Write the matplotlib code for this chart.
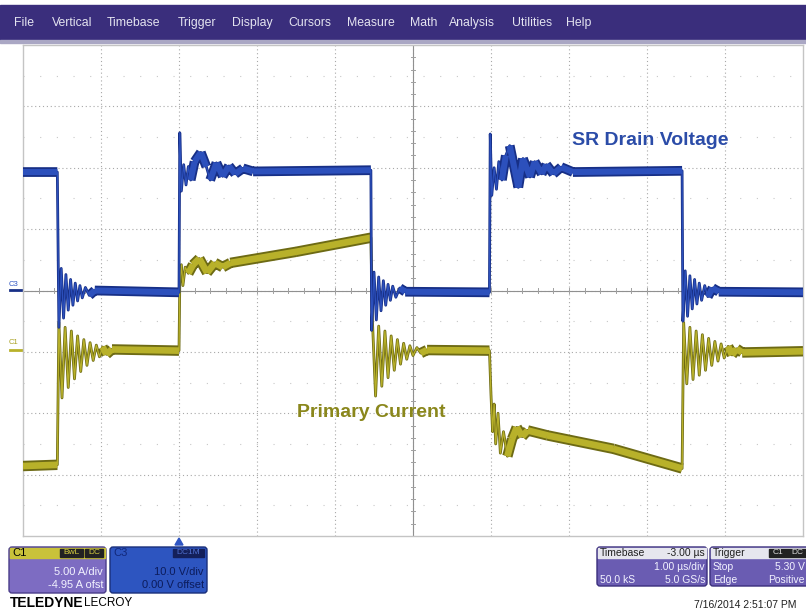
import numpy as np
import matplotlib.pyplot as plt
from matplotlib.patches import Rectangle, FancyBboxPatch, Polygon

plt.rcParams['font.family'] = ['Liberation Sans', 'DejaVu Sans']

# Scope screen: 10 time divisions (1 us/div), 8 vertical divisions
# C3 = SR drain voltage (blue), values in divisions
c3_t = [0.00, 0.44,
        0.46, 0.49, 0.52, 0.55, 0.58, 0.61, 0.64, 0.67, 0.70, 0.73, 0.76, 0.80, 0.85, 0.92, 2.00,
        2.01, 2.03, 2.06, 2.09, 2.12, 2.15, 2.20, 2.28, 2.35, 2.40, 2.48, 2.56, 2.64, 2.72, 2.82, 2.95, 4.46,
        4.47, 4.50, 4.53, 4.56, 4.59, 4.62, 4.65, 4.68, 4.71, 4.74, 4.78, 4.83, 4.90, 5.98,
        5.99, 6.01, 6.04, 6.07, 6.10, 6.14, 6.19, 6.24, 6.35, 6.41, 6.50, 6.56, 6.65, 6.71, 6.80, 6.90, 7.05, 8.45,
        8.46, 8.49, 8.52, 8.55, 8.58, 8.61, 8.64, 8.67, 8.70, 8.74, 8.78, 8.84, 8.92, 10.0]
c3_v = [1.93, 1.93,
        -0.60, 0.36, -0.45, 0.26, -0.32, 0.18, -0.24, 0.12, -0.17, 0.08, -0.12, 0.05, -0.08, 0.00, -0.03,
        2.57, 1.62, 2.05, 1.72, 2.02, 1.80, 2.10, 2.25, 2.02, 1.80, 2.08, 1.86, 2.03, 1.90, 1.99, 1.94, 1.96,
        -0.65, 0.30, -0.48, 0.22, -0.33, 0.16, -0.24, 0.10, -0.16, 0.07, -0.11, 0.04, -0.02, -0.03,
        2.55, 1.55, 2.00, 1.65, 2.10, 1.80, 2.20, 2.36, 1.68, 2.15, 1.85, 2.10, 1.90, 2.05, 1.90, 2.01, 1.93, 1.95,
        -0.50, 0.32, -0.42, 0.24, -0.30, 0.18, -0.22, 0.12, -0.16, 0.08, -0.10, 0.04, -0.02, -0.03]

# C1 = primary current (yellow), values in divisions
c1_t = [0.00, 0.44,
        0.46, 0.50, 0.54, 0.58, 0.62, 0.66, 0.70, 0.74, 0.78, 0.82, 0.86, 0.90, 0.94, 0.98, 1.02, 1.07, 1.14, 2.00,
        2.01, 2.03, 2.05, 2.08, 2.12, 2.18, 2.26, 2.36, 2.46, 2.56, 2.66, 3.50, 4.46,
        4.48, 4.52, 4.56, 4.60, 4.64, 4.68, 4.72, 4.76, 4.80, 4.84, 4.88, 4.92, 4.96, 5.00, 5.05, 5.10, 5.18, 5.98,
        6.00, 6.02, 6.04, 6.06, 6.09, 6.12, 6.16, 6.21, 6.27, 6.33, 6.40, 6.47, 6.72, 7.57, 8.45,
        8.47, 8.51, 8.55, 8.59, 8.63, 8.67, 8.71, 8.75, 8.79, 8.83, 8.87, 8.91, 8.95, 8.99, 9.04, 9.09, 9.15, 9.22, 10.0]
c1_v = [-2.86, -2.84,
        -0.52, -1.75, -0.60, -1.58, -0.66, -1.44, -0.74, -1.32, -0.80, -1.22, -0.85, -1.14, -0.89, -1.08, -0.92, -1.04, -0.96, -0.98,
        0.12, 0.42, 0.08, 0.38, 0.28, 0.42, 0.52, 0.29, 0.45, 0.38, 0.45, 0.63, 0.86,
        -0.50, -1.72, -0.58, -1.56, -0.66, -1.42, -0.74, -1.30, -0.80, -1.20, -0.86, -1.12, -0.90, -1.06, -0.93, -1.02, -0.97, -0.98,
        -1.70, -2.30, -1.85, -2.50, -2.00, -2.65, -2.30, -2.70, -2.42, -2.23, -2.38, -2.28, -2.36, -2.58, -2.90,
        -0.52, -1.52, -0.60, -1.45, -0.66, -1.38, -0.72, -1.30, -0.78, -1.22, -0.83, -1.15, -0.87, -1.10, -0.91, -1.05, -0.95, -1.01, -0.99]

menu_items = ['File', 'Vertical', 'Timebase', 'Trigger', 'Display', 'Cursors',
              'Measure', 'Math', 'Analysis', 'Utilities', 'Help']
menu_x = [14, 52, 107, 178, 232, 288, 347, 410, 449, 512, 566]


def plateau_pieces(t, v, min_dt=0.05):
    # slow parts of the trace get the thick "noise band" look
    xs, ys = [], []
    for i in range(len(t) - 1):
        if t[i + 1] - t[i] >= min_dt:
            xs += [t[i], t[i + 1], np.nan]
            ys += [v[i], v[i + 1], np.nan]
    return xs, ys


fig = plt.figure(figsize=(8.06, 6.11), dpi=100)
fig.patch.set_facecolor('white')

# overlay in pixel coordinates for the screen furniture
ov = fig.add_axes([0, 0, 1, 1], zorder=0)
ov.set_xlim(0, 806)
ov.set_ylim(611, 0)
ov.axis('off')

# menu bar
ov.add_patch(Rectangle((0, 5), 806, 35, color='#3a2e7c'))
ov.add_patch(Rectangle((0, 40), 806, 3, color='#aaa7c4'))
for name, x in zip(menu_items, menu_x):
    ov.text(x, 23, name, color='#e4e4f0', fontsize=8.8, va='center')

# plot grid
ax = fig.add_axes([23 / 806, 75 / 611, 780 / 806, 491 / 611], zorder=1)
ax.set_xlim(0, 10)
ax.set_ylim(-4, 4)
ax.set_xticks([])
ax.set_yticks([])
for s in ax.spines.values():
    s.set_color('#c4c4c4')
    s.set_linewidth(1.0)
for x in range(1, 10):
    ax.axvline(x, color='#a8a8a8', lw=0.8, ls=(0, (1, 2.5)), zorder=1)
for y in range(-3, 4):
    ax.axhline(y, color='#a8a8a8', lw=0.8, ls=(0, (1, 2.5)), zorder=1)
for y in [-3.5, -2.5, -1.5, -0.5, 0.5, 1.5, 2.5, 3.5]:
    ax.axhline(y, color='#c8c8c8', lw=0.8, ls=(0, (1, 14)), zorder=1)
# center axes with minor ticks
ax.axhline(0, color='#909090', lw=0.8, zorder=1)
ax.axvline(5, color='#909090', lw=0.8, zorder=1)
for xt in np.arange(0.2, 10, 0.2):
    ax.plot([xt, xt], [-0.04, 0.04], color='#a0a0a0', lw=0.7, zorder=1)
for yt in np.arange(-3.8, 4, 0.2):
    ax.plot([4.97, 5.03], [yt, yt], color='#a0a0a0', lw=0.7, zorder=1)

# C1 trace (yellow)
px, py = plateau_pieces(c1_t, c1_v)
ax.plot(c1_t, c1_v, color='#6d6a14', lw=2.0, zorder=3)
ax.plot(px, py, color='#6d6a14', lw=7.5, zorder=3, solid_capstyle='butt')
ax.plot(px, py, color='#b8b12a', lw=4.8, zorder=4, solid_capstyle='butt')
ax.plot(c1_t, c1_v, color='#b8b12a', lw=0.9, zorder=4)

# C3 trace (blue)
px, py = plateau_pieces(c3_t, c3_v)
ax.plot(c3_t, c3_v, color='#172f86', lw=2.0, zorder=5)
ax.plot(px, py, color='#172f86', lw=7.0, zorder=5, solid_capstyle='butt')
ax.plot(px, py, color='#2c50bc', lw=4.4, zorder=6, solid_capstyle='butt')
ax.plot(c3_t, c3_v, color='#2c50bc', lw=0.9, zorder=6)

ax.text(7.04, 2.44, 'SR Drain Voltage', color='#2b4ca8', fontsize=14,
        fontweight='bold', va='center', ha='left', zorder=7)
ax.text(3.51, -1.99, 'Primary Current', color='#8a871c', fontsize=14,
        fontweight='bold', va='center', ha='left', zorder=7)

# channel markers on the left
ov.text(9, 284, 'C3', color='#2f55c2', fontsize=5.5, va='center')
ov.plot([10, 22], [290, 290], color='#172f86', lw=2)
ov.text(9, 343, 'C1', color='#a8a020', fontsize=5.5, va='center')
ov.plot([10, 22], [350, 350], color='#b8b12a', lw=2)

# trigger position marker
ov.add_patch(Polygon([[175, 545], [183, 545], [179, 538]], color='#2f55c2'))

# C1 info box
ov.add_patch(FancyBboxPatch((9, 547), 97, 46, boxstyle='round,pad=0,rounding_size=3',
                            fc='#7d6cc2', ec='#4a3d8a', lw=1))
ov.add_patch(Rectangle((10, 548), 95, 10, color='#c9c23a'))
ov.text(12, 553, 'C1', color='black', fontsize=8, va='center')
ov.add_patch(Rectangle((60, 549), 23, 8, color='#222222'))
ov.text(71.5, 553, 'BwL', color='#d8d040', fontsize=6, va='center', ha='center')
ov.add_patch(Rectangle((85, 549), 18, 8, color='#222222'))
ov.text(94, 553, 'DC', color='#d8d040', fontsize=6, va='center', ha='center')
ov.text(103, 572, '5.00 A/div', color='#f2f2ff', fontsize=8, va='center', ha='right')
ov.text(103, 585, '-4.95 A ofst', color='#f2f2ff', fontsize=8, va='center', ha='right')

# C3 info box
ov.add_patch(FancyBboxPatch((110, 547), 97, 46, boxstyle='round,pad=0,rounding_size=3',
                            fc='#2d55c0', ec='#1a2f7a', lw=1))
ov.text(113, 553, 'C3', color='#12287a', fontsize=8, va='center')
ov.add_patch(Rectangle((173, 549), 31, 8, color='#14205a'))
ov.text(188.5, 553, 'DC1M', color='#5070d0', fontsize=6, va='center', ha='center')
ov.text(204, 572, '10.0 V/div', color='#0c1c5c', fontsize=8, va='center', ha='right')
ov.text(204, 585, '0.00 V offset', color='#0c1c5c', fontsize=8, va='center', ha='right')

ov.text(10, 603, 'TELEDYNE', color='black', fontsize=10, fontweight='bold', va='center')
ov.text(84, 603, 'LECROY', color='black', fontsize=8.5, va='center')

# Timebase box
ov.add_patch(FancyBboxPatch((597, 547), 110, 39, boxstyle='round,pad=0,rounding_size=3',
                            fc='#6a5cb2', ec='#3a2e7c', lw=1))
ov.add_patch(Rectangle((598, 548), 108, 10, color='#e6e6ee'))
ov.text(600, 553, 'Timebase', color='#202020', fontsize=7.5, va='center')
ov.text(705, 553, '-3.00 \u00b5s', color='#202020', fontsize=7.5, va='center', ha='right')
ov.text(705, 567, '1.00 \u00b5s/div', color='#f2f2ff', fontsize=7.5, va='center', ha='right')
ov.text(600, 580, '50.0 kS', color='#f2f2ff', fontsize=7.5, va='center')
ov.text(705, 580, '5.0 GS/s', color='#f2f2ff', fontsize=7.5, va='center', ha='right')

# Trigger box
ov.add_patch(FancyBboxPatch((710, 547), 100, 39, boxstyle='round,pad=0,rounding_size=3',
                            fc='#6a5cb2', ec='#3a2e7c', lw=1))
ov.add_patch(Rectangle((711, 548), 98, 10, color='#e6e6ee'))
ov.text(713, 553, 'Trigger', color='#202020', fontsize=7.5, va='center')
ov.add_patch(Rectangle((769, 549), 37, 8, color='#222222'))
ov.text(778, 553, 'C1', color='#e0e0e0', fontsize=6, va='center', ha='center')
ov.text(797, 553, 'DC', color='#e0e0e0', fontsize=6, va='center', ha='center')
ov.text(713, 567, 'Stop', color='#f2f2ff', fontsize=7.5, va='center')
ov.text(805, 567, '5.30 V', color='#f2f2ff', fontsize=7.5, va='center', ha='right')
ov.text(713, 580, 'Edge', color='#f2f2ff', fontsize=7.5, va='center')
ov.text(805, 580, 'Positive', color='#f2f2ff', fontsize=7.5, va='center', ha='right')

ov.text(796, 605, '7/16/2014 2:51:07 PM', color='#202020', fontsize=7.5, va='center', ha='right')

fig.savefig('out.png', dpi=100)
